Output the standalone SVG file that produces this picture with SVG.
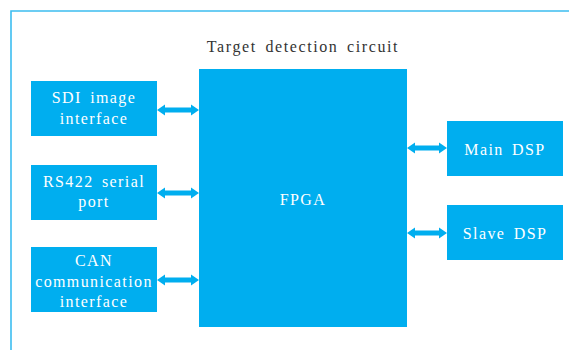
<svg xmlns="http://www.w3.org/2000/svg" width="571" height="350" viewBox="0 0 571 350">
<style>
.box{fill:#00AEEF}
text{font-family:'Liberation Serif','Times New Roman','DejaVu Serif',serif}
.t{font-size:16px;fill:#ffffff;text-anchor:middle;letter-spacing:1.4px;word-spacing:3px}
.title{font-size:16px;fill:#333333;text-anchor:middle;letter-spacing:1.6px;word-spacing:3px}
.arr{fill:#00AEEF}
.frame{stroke:#3CBDF0;stroke-width:1.6;fill:none}
</style>
<defs>
<path id="dblL" d="M0,0 L8,-5.5 L8,-2.5 L34,-2.5 L34,-5.5 L42,0 L34,5.5 L34,2.5 L8,2.5 L8,5.5 Z"/>
<path id="dblR" d="M0,0 L8,-5.5 L8,-2.5 L32,-2.5 L32,-5.5 L40,0 L32,5.5 L32,2.5 L8,2.5 L8,5.5 Z"/>
</defs>
<rect width="571" height="350" fill="#ffffff"/>
<path class="frame" d="M11,351 L11,11 L569,11"/>
<text class="title" x="303" y="52">Target detection circuit</text>
<g id="fpga">
<rect class="box" x="199" y="69" width="208" height="258"/>
<text class="t" x="303" y="205">FPGA</text>
</g>
<g id="sdi">
<rect class="box" x="31" y="81" width="126" height="55"/>
<text class="t" x="94" y="103">SDI image</text>
<text class="t" x="94" y="124">interface</text>
</g>
<g id="rs422">
<rect class="box" x="31" y="165" width="126" height="55"/>
<text class="t" x="94" y="187">RS422 serial</text>
<text class="t" x="94" y="207">port</text>
</g>
<g id="can">
<rect class="box" x="31" y="247" width="126" height="65"/>
<text class="t" x="94" y="266">CAN</text>
<text class="t" x="94" y="287">communication</text>
<text class="t" x="94" y="307">interface</text>
</g>
<g id="maindsp">
<rect class="box" x="447" y="121" width="116" height="55"/>
<text class="t" x="505" y="155">Main DSP</text>
</g>
<g id="slavedsp">
<rect class="box" x="447" y="205" width="116" height="55"/>
<text class="t" x="505" y="239">Slave DSP</text>
</g>
<g id="connectors" class="arr">
<use href="#dblL" x="157" y="110"/>
<use href="#dblL" x="157" y="193"/>
<use href="#dblL" x="157" y="280"/>
<use href="#dblR" x="407" y="148"/>
<use href="#dblR" x="407" y="233"/>
</g>
</svg>
